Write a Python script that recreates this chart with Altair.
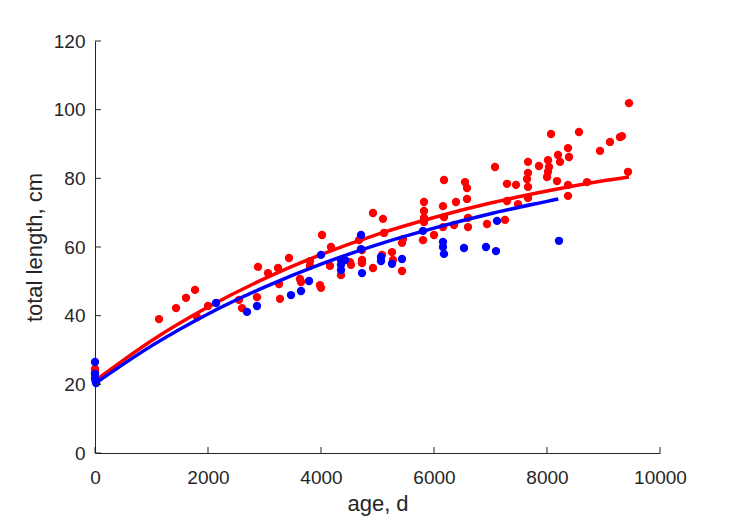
import altair as alt
import pandas as pd

# ---- data ----
red_age = [0, 0, 1133, 1434, 1611, 1770, 1805, 2000, 2549, 2602, 2867, 2885, 3062, 3239,
           3257, 3274, 3434, 4018, 4177, 3805, 3805, 4159, 3628, 3646, 3982, 4000, 4354,
           4513, 4531, 4726, 4726, 4673, 4726, 4920, 4920, 5097, 5115, 5080, 5257, 5274,
           5434, 5451, 5434, 5805, 5823, 5823, 5823, 5823, 6000, 6159, 6159, 6177, 6354,
           6389, 6584, 6602, 6602, 6177, 6549, 6584, 7080, 7292, 7451, 7292, 7487, 7664,
           7664, 7646, 7664, 7664, 7858, 8018, 8035, 8000, 8018, 8071, 8177, 8195, 8230,
           8372, 8389, 8372, 8372, 8566, 8708, 8938, 9115, 9292, 9327, 9434, 7257, 6938,
           9451]
red_len = [24.5, 23.5, 39.0, 42.2, 45.2, 47.5, 39.6, 42.8, 44.6, 42.2, 45.4, 54.2, 52.4, 53.9,
           49.2, 44.9, 56.8, 63.5, 60.0, 55.9, 54.5, 54.5, 50.7, 49.8, 48.9, 48.1, 51.8,
           55.6, 54.8, 56.2, 55.3, 62.0, 59.1, 53.9, 69.9, 68.2, 64.1, 57.7, 58.5, 56.2,
           61.2, 62.3, 53.0, 62.0, 73.1, 70.5, 68.5, 67.3, 63.5, 71.9, 65.8, 68.7, 66.4,
           73.1, 74.0, 65.8, 68.5, 79.5, 78.9, 77.2, 83.3, 78.4, 78.1, 73.4, 72.5, 84.8,
           81.6, 79.8, 77.5, 74.3, 83.6, 85.3, 83.3, 80.4, 81.9, 92.9, 79.2, 86.8, 84.8,
           88.8, 86.2, 78.1, 74.9, 93.5, 78.9, 88.0, 90.6, 92.0, 92.3, 81.9, 67.9, 66.7,
           101.9]

blue_age = [0, 0, 0, 10, 20, 2142, 2690, 2867, 3469, 3646, 3788, 4000, 4354, 4354, 4354,
            4425, 4708, 4708, 4726, 5062, 5062, 5257, 5434, 5805, 6159, 6159, 6177, 6531,
            7115, 6920, 7097, 8212]
blue_len = [26.5, 23.0, 21.8, 21.0, 20.4, 43.7, 41.1, 42.8, 46.0, 47.2, 50.1, 57.7, 56.2,
            54.8, 53.3, 56.2, 63.5, 59.4, 52.4, 57.1, 55.9, 55.1, 56.5, 64.7, 61.5, 60.0,
            58.0, 59.7, 67.6, 60.0, 58.8, 61.8]

# fitted curves
red_curve_age = [0, 1000, 2000, 3000, 4000, 5000, 6000, 7000, 8000, 9000, 9450]
red_curve_len = [21.0, 32.7, 42.5, 50.8, 57.8, 63.7, 68.6, 72.8, 76.3, 79.3, 80.4]
blue_curve_age = [0, 1000, 2000, 3000, 4000, 5000, 6000, 7000, 8000, 8200]
blue_curve_len = [20.2, 31.2, 40.5, 48.3, 55.0, 60.7, 65.5, 69.7, 73.3, 74.0]

x_ticks = [0, 2000, 4000, 6000, 8000, 10000]
y_ticks = [0, 20, 40, 60, 80, 100, 120]

W, H = 565, 412
AX = "#262626"
FONT = "Liberation Sans"

xs = alt.Scale(domain=[0, 10000], nice=False)
ys = alt.Scale(domain=[0, 120], nice=False)

x_axis = alt.Axis(values=x_ticks, format="d", title="age, d", grid=False, ticks=False, tickSize=0,
                  domainColor=AX, domainWidth=1, labelColor=AX, labelFont=FONT,
                  labelFontSize=19, labelPadding=30, labelBaseline="alphabetic",
                  labelFlush=False, labelOverlap=False,
                  titleFont=FONT, titleFontSize=22, titleFontWeight="normal", titleColor=AX,
                  titleX=W / 2, titleY=57, titleBaseline="alphabetic", titleAlign="center")
y_axis = alt.Axis(values=y_ticks, format="d", title="total length, cm", grid=False, ticks=False, tickSize=0,
                  domainColor=AX, domainWidth=1, labelColor=AX, labelFont=FONT,
                  labelFontSize=19, labelPadding=10, labelFlush=False, labelOverlap=False,
                  titleFont=FONT, titleFontSize=22, titleFontWeight="normal", titleColor=AX,
                  titleX=-54, titleY=H / 2, titleBaseline="alphabetic", titleAlign="center",
                  titleAngle=270)

red_df = pd.DataFrame({"age": red_age, "len": red_len})
blue_df = pd.DataFrame({"age": blue_age, "len": blue_len})
rc_df = pd.DataFrame({"age": red_curve_age, "len": red_curve_len})
bc_df = pd.DataFrame({"age": blue_curve_age, "len": blue_curve_len})
xt_df = pd.DataFrame({"t": x_ticks})
yt_df = pd.DataFrame({"t": y_ticks})

red_pts = alt.Chart(red_df).mark_circle(color="#FF0000", opacity=1, size=70).encode(
    x=alt.X("age:Q", scale=xs, axis=x_axis),
    y=alt.Y("len:Q", scale=ys, axis=y_axis),
)
blue_pts = alt.Chart(blue_df).mark_circle(color="#0000FF", opacity=1, size=70).encode(
    x=alt.X("age:Q", scale=xs), y=alt.Y("len:Q", scale=ys))
red_line = alt.Chart(rc_df).mark_line(color="#FF0000", strokeWidth=3.5, interpolate="monotone").encode(
    x=alt.X("age:Q", scale=xs), y=alt.Y("len:Q", scale=ys))
blue_line = alt.Chart(bc_df).mark_line(color="#0000FF", strokeWidth=3.5, interpolate="monotone").encode(
    x=alt.X("age:Q", scale=xs), y=alt.Y("len:Q", scale=ys))

x_tick_marks = alt.Chart(xt_df).mark_rule(color=AX, strokeWidth=1).encode(
    x=alt.X("t:Q", scale=xs), y=alt.value(H), y2=alt.value(H - 6))
y_tick_marks = alt.Chart(yt_df).mark_rule(color=AX, strokeWidth=1).encode(
    y=alt.Y("t:Q", scale=ys), x=alt.value(0), x2=alt.value(6))

chart = alt.layer(red_pts, red_line, blue_pts, blue_line, x_tick_marks, y_tick_marks).properties(
    width=W, height=H,
    padding={"left": 95, "top": 41, "right": 69, "bottom": 68},
    autosize="none",
    background="white",
).configure_view(stroke=None)

chart.save("out.html", embed_options={"renderer": "svg", "actions": False})
